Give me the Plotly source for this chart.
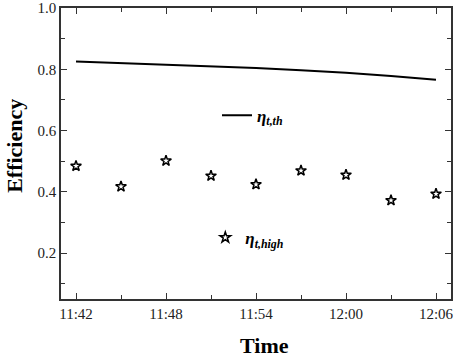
import plotly.graph_objects as go

day = "2020-01-01 "
line_times = ["11:42", "11:45", "11:48", "11:51", "11:54", "11:57", "12:00", "12:03", "12:06"]
eta_th = [0.825, 0.820, 0.815, 0.810, 0.804, 0.797, 0.789, 0.778, 0.766]
star_times = ["11:42", "11:45", "11:48", "11:51", "11:54", "11:57", "12:00", "12:03", "12:06"]
eta_high = [0.484, 0.417, 0.501, 0.452, 0.424, 0.469, 0.455, 0.372, 0.393]
y_ticks = [0.2, 0.4, 0.6, 0.8, 1.0]
y_tick_text = ["0.2", "0.4", "0.6", "0.8", "1.0"]

FONT = "Liberation Serif"

fig = go.Figure()
fig.add_trace(go.Scatter(
    x=[day + t for t in line_times], y=eta_th, mode="lines",
    line=dict(color="black", width=2),
    name="<b><i>η<sub>t,th</sub></i></b>", legend="legend",
))
fig.add_trace(go.Scatter(
    x=[day + t for t in star_times], y=eta_high, mode="markers",
    marker=dict(symbol="star-open", size=8, color="black", line=dict(width=1.5, color="black")),
    name="<b><i>η<sub>t,high</sub></i></b>", legend="legend2",
))

axis_common = dict(
    showline=True, linecolor="#333", linewidth=1.5, mirror="ticks",
    ticks="inside", ticklen=6, tickwidth=1, tickcolor="#333",
    showgrid=False, zeroline=False, automargin=False,
    tickfont=dict(family=FONT, size=15, color="#222"),
)

fig.update_xaxes(
    type="date", range=[day + "11:41", day + "12:07"],
    tickformat="%H:%M", dtick=360000, tick0=day + "11:42",
    minor=dict(dtick=180000, ticks="inside", ticklen=4, tickcolor="#333", showgrid=False),
    **axis_common,
)
fig.update_yaxes(
    range=[0.05, 1.0], tickvals=y_ticks, ticktext=y_tick_text,
    minor=dict(tickvals=[0.1, 0.3, 0.5, 0.7, 0.9], ticks="inside", ticklen=4, tickcolor="#333", showgrid=False),
    **axis_common,
)

fig.update_layout(
    width=457, height=363,
    margin=dict(l=61, r=6, t=8, b=64),
    plot_bgcolor="white", paper_bgcolor="white",
    font=dict(family=FONT, color="black"),
    showlegend=True,
    legend=dict(x=0.40, y=0.63, xanchor="left", yanchor="middle",
                bgcolor="rgba(0,0,0,0)", borderwidth=0,
                font=dict(family=FONT, size=17, color="black")),
    legend2=dict(x=0.37, y=0.21, xanchor="left", yanchor="middle",
                 bgcolor="rgba(0,0,0,0)", borderwidth=0,
                 font=dict(family=FONT, size=17, color="black")),
    annotations=[
        dict(text="<b>Efficiency</b>", xref="paper", yref="paper",
             x=-0.12, y=0.527, xanchor="center", yanchor="middle", textangle=-90,
             showarrow=False, font=dict(family=FONT, size=22, color="black")),
        dict(text="<b>Time</b>", xref="paper", yref="paper",
             x=0.523, y=-0.16, xanchor="center", yanchor="middle",
             showarrow=False, font=dict(family=FONT, size=22, color="black")),
    ],
)

fig.write_html("out.html", config={"displayModeBar": False},
               post_script="document.body.style.margin='0';document.body.style.overflow='hidden';")
